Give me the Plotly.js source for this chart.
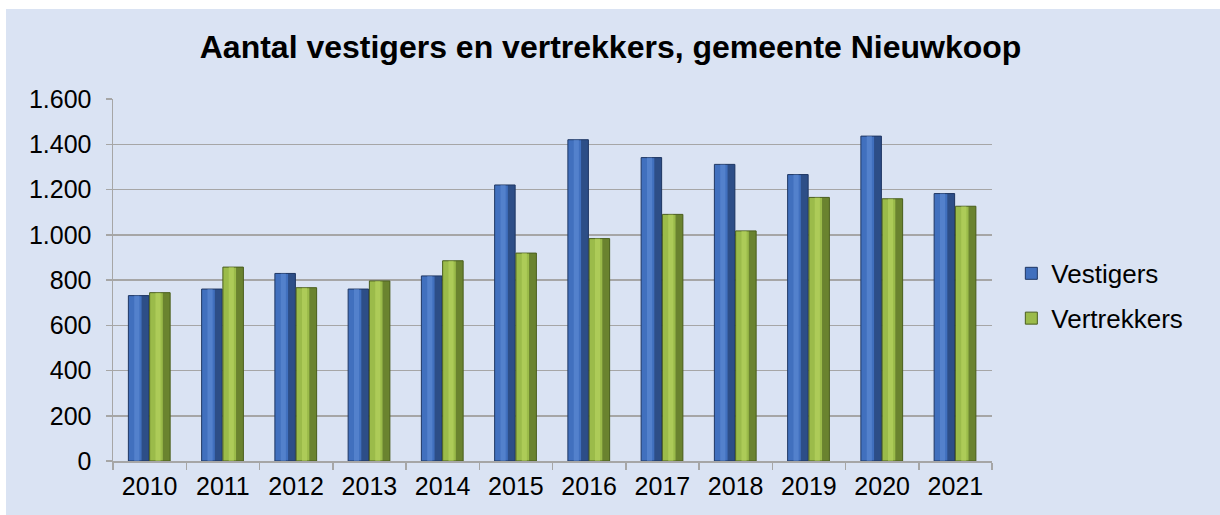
<!DOCTYPE html>
<html>
<head>
<meta charset="utf-8">
<script src="https://cdn.plot.ly/plotly-3.0.1.min.js"></script>
<style>
html,body{margin:0;padding:0;background:#ffffff;}
#chart{position:absolute;left:6px;top:9px;width:1214px;height:506px;}
</style>
</head>
<body>
<div id="chart"></div>
<script>
const years = ['2010','2011','2012','2013','2014','2015','2016','2017','2018','2019','2020','2021'];
const vestigers = [731, 760, 829, 760, 818, 1220, 1420, 1341, 1311, 1266, 1436, 1182];
const vertrekkers = [744, 857, 766, 796, 885, 919, 983, 1090, 1017, 1165, 1159, 1126];
const seriesNames = ['Vestigers', 'Vertrekkers'];

const bg = '#dae3f3';
const grid = '#a6a6a6';

function barSet(vals, name, off, main, dark, light, group) {
  return [
    {type:'bar', x:years, y:vals, name:name, legendgroup:group, showlegend:true,
     offset:off, width:0.28, marker:{color:main, line:{color:dark, width:1}}, hoverinfo:'y'},
    {type:'bar', x:years, y:vals, showlegend:false, hoverinfo:'skip',
     offset:off+0.18, width:0.10, marker:{color:dark, opacity:0.6, line:{width:0}}},
    {type:'bar', x:years, y:vals, showlegend:false, hoverinfo:'skip',
     offset:off+0.08, width:0.07, marker:{color:light, opacity:0.45, line:{width:0}}}
  ];
}

const data = [].concat(
  barSet(vestigers, seriesNames[0], -0.29, '#4170be', '#1f3763', '#6a96de', 'g1'),
  barSet(vertrekkers, seriesNames[1], 0.0, '#9bbb4a', '#4a5e1e', '#c4df6a', 'g2')
);

const layout = {
  width:1214, height:506,
  paper_bgcolor:bg, plot_bgcolor:bg,
  margin:{l:107, r:228, t:90, b:54},
  barmode:'overlay',
  separators:',.',
  font:{family:'Liberation Sans, Arial, sans-serif', color:'#000000', size:26},
  title:{text:'<b>Aantal vestigers en vertrekkers, gemeente Nieuwkoop</b>',
         x:0.498, xref:'container', xanchor:'center', y:0.925, yanchor:'middle', yref:'container',
         font:{family:'Liberation Sans, Arial, sans-serif', size:32, color:'#000000'}},
  xaxis:{type:'category', showgrid:false, showline:true, linecolor:grid, linewidth:1.5,
         ticks:'outside', tickson:'boundaries', ticklen:7, tickcolor:grid, tickwidth:1.5,
         tickfont:{size:25}, ticklabelstandoff:2, fixedrange:true},
  yaxis:{range:[0,1600], dtick:200, tickformat:',d', showgrid:true, gridcolor:grid, gridwidth:1.5,
         showline:true, linecolor:grid, linewidth:1.5, ticks:'outside', ticklen:6, tickcolor:grid,
         tickwidth:1.5, tickfont:{size:25}, ticklabelstandoff:9, zeroline:false, fixedrange:true},
  legend:{x:1.022, xanchor:'left', y:0.456, yanchor:'middle', traceorder:'grouped', tracegroupgap:8,
          font:{size:26}, bgcolor:'rgba(0,0,0,0)', itemwidth:30},
  showlegend:true
};

Plotly.newPlot('chart', data, layout, {displayModeBar:false, staticPlot:true});
</script>
</body>
</html>
